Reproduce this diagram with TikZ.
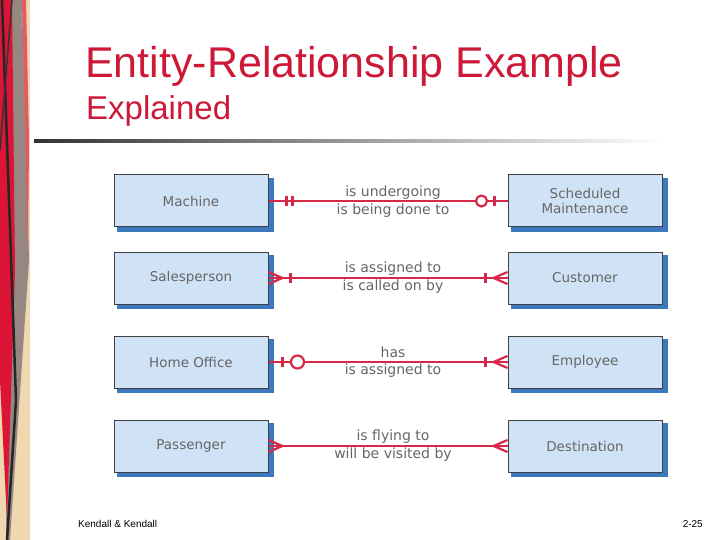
\documentclass[tikz,border=0pt]{standalone}
\usepackage{fontspec}
\setmainfont{Liberation Sans}
\newfontfamily\dvs{DejaVu Sans}
\definecolor{beige}{RGB}{240,215,175}
\definecolor{stripgray}{RGB}{150,135,130}
\definecolor{stripred}{RGB}{220,20,55}
\definecolor{stripred2}{RGB}{225,90,100}
\definecolor{entfill}{RGB}{208,226,245}
\definecolor{shadowblue}{RGB}{60,120,190}
\definecolor{relred}{RGB}{215,40,70}
\definecolor{titlered}{RGB}{205,25,55}
\begin{document}
\begin{tikzpicture}[x=1pt,y=-1pt,
  ent/.style={draw=black!75,line width=1pt,fill=entfill,minimum width=154pt,minimum height=52pt,font=\dvs\fontsize{13.5}{15}\selectfont,text=black!60,inner sep=0pt},
  rel/.style={draw=relred,line width=1.6pt},
  lab/.style={font=\dvs\fontsize{14}{15}\selectfont,text=black!60,inner sep=1pt}]
\useasboundingbox (0,0) rectangle (720,540);
\fill[white] (0,0) rectangle (720,540);
% left border
\fill[beige] (0,0) rectangle (30,540);
\fill[stripgray] (12,0) -- (22,0) -- (29,260) -- (10,540) -- (6,540) -- cycle;
\fill[stripred2] (22,0) -- (26,0) -- (29,140) -- (28,260) -- cycle;
\fill[stripred] (0,0) -- (12,0) -- (15,270) -- (7,520) -- (0,380) -- cycle;
\draw[line width=2.5pt,black!85] (2,0) -- (16,400) -- (7,540);
\draw[line width=1.5pt,black!80] (0,150) -- (12,0);
% title
\node[anchor=base west,inner sep=0pt,font=\fontsize{43}{43}\selectfont,text=titlered] (t1) at (85,78) {Entity-Relationship Example};
\node[anchor=base west,inner sep=0pt,font=\fontsize{33}{33}\selectfont,text=titlered] (t2) at (86,120) {Explained};
\shade[left color=black!80,right color=white] (34,140) rectangle (665,142.5);
% entities
\foreach \n/\l/\r/\y in {1/Machine/{Scheduled\\Maintenance}/201, 2/Salesperson/Customer/278, 3/Home Office/Employee/362, 4/Passenger/Destination/446}{
  \fill[shadowblue] (117,\y-23) rectangle (274,\y+31);
  \node[ent] (L\n) at (191,\y) {\l};
  \fill[shadowblue] (511,\y-23) rectangle (668,\y+31);
  \node[ent,align=center] (R\n) at (585,\y) {\r};
  \draw[rel] (L\n.east) -- (R\n.west);
}
% labels
\node[lab] (a1) at (393,193) {is undergoing};
\node[lab] (b1) at (393,211) {is being done to};
\node[lab] (a2) at (393,269) {is assigned to};
\node[lab] (b2) at (393,287) {is called on by};
\node[lab] (a3) at (393,352) {has};
\node[lab] (b3) at (393,371) {is assigned to};
\node[lab] (a4) at (393,437) {is flying to};
\node[lab] (b4) at (393,455) {will be visited by};
% notations
\begin{scope}[rel,line width=2.2pt]
\draw (L1.east) ++(18,-5) -- ++(0,10);
\draw (L1.east) ++(24,-5) -- ++(0,10);
\draw[fill=white] (R1.west) ++(-26,0) circle (5.5);
\draw (R1.west) ++(-13,-5) -- ++(0,10);
\draw (L2.east) ++(14,0) -- ++(-14,-6);
\draw (L2.east) ++(14,0) -- ++(-14,6);
\draw (L2.east) ++(22,-5) -- ++(0,10);
\draw (R2.west) ++(-14,0) -- ++(14,-6);
\draw (R2.west) ++(-14,0) -- ++(14,6);
\draw (R2.west) ++(-22,-5) -- ++(0,10);
\draw (L3.east) ++(14,-5) -- ++(0,10);
\draw[fill=white] (L3.east) ++(29,0) circle (6.5);
\draw (R3.west) ++(-14,0) -- ++(14,-6);
\draw (R3.west) ++(-14,0) -- ++(14,6);
\draw (R3.west) ++(-22,-5) -- ++(0,10);
\draw (L4.east) ++(14,0) -- ++(-14,-6);
\draw (L4.east) ++(14,0) -- ++(-14,6);
\draw (R4.west) ++(-14,0) -- ++(14,-6);
\draw (R4.west) ++(-14,0) -- ++(14,6);
\end{scope}
% footer
\node[anchor=base west,font=\fontsize{10}{10}\selectfont,inner sep=0pt] (f1) at (78,527) {Kendall \& Kendall};
\node[anchor=base east,font=\fontsize{10}{10}\selectfont,inner sep=0pt] (f2) at (703,527) {2-25};
\end{tikzpicture}
\end{document}
